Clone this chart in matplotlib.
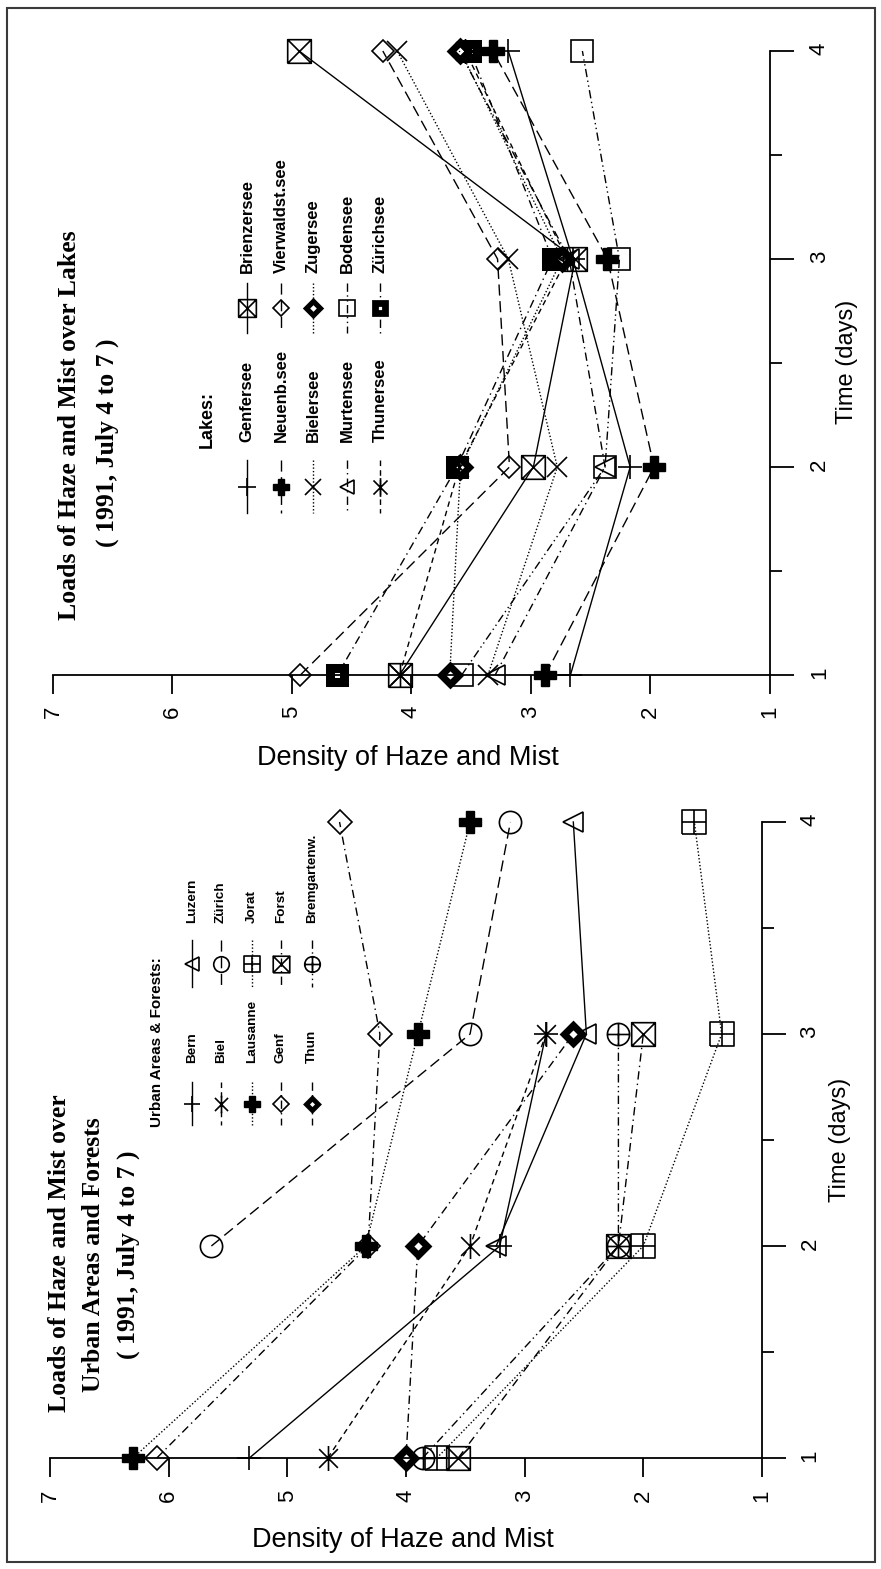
import numpy as np
import matplotlib.pyplot as plt
from matplotlib.path import Path
from matplotlib.patches import Rectangle

plt.rcParams['font.family'] = ['Liberation Sans', 'DejaVu Sans']

nan = np.nan
days = [1, 2, 3, 4]

# Seen: Dichte von Dunst und Nebel pro Tag
genfersee = [2.67, 2.17, 2.65, 3.19]
neuenburgersee = [2.88, 1.97, 2.36, 3.32]
bielersee = [3.36, 2.78, 3.19, 4.12]
murtensee = [3.30, 2.38, 2.68, 3.60]
thunersee = [4.10, 3.60, 2.70, 3.55]
brienzersee = [4.10, 2.98, 2.63, 4.94]
vierwaldstaettersee = [4.93, 3.18, 3.28, 4.24]
zugersee = [3.68, 3.59, 2.74, 3.59]
bodensee = [3.58, 2.38, 2.26, 2.57]
zuerichsee = [4.62, 3.62, 2.82, 3.51]

lake_names = ["Genfersee", "Neuenb.see", "Bielersee", "Murtensee", "Thunersee",
              "Brienzersee", "Vierwaldst.see", "Zugersee", "Bodensee", "Zürichsee"]
lake_values = [genfersee, neuenburgersee, bielersee, murtensee, thunersee,
               brienzersee, vierwaldstaettersee, zugersee, bodensee, zuerichsee]

# Städte und Wälder
bern = [5.32, 3.21, 2.82, nan]
biel = [4.66, 3.46, 2.82, nan]
lausanne = [6.30, 4.34, 3.90, 3.46]
genf = [6.10, 4.32, 4.22, 4.56]
thun = [4.00, 3.90, 2.59, nan]
luzern = [nan, 3.24, 2.48, 2.59]
zuerich = [nan, 5.64, 3.46, 3.12]
jorat = [3.74, 2.00, 1.34, 1.57]
forst = [3.56, 2.21, 2.00, nan]
bremgarten = [3.86, 2.21, 2.21, nan]

urban_names = ["Bern", "Biel", "Lausanne", "Genf", "Thun",
               "Luzern", "Zürich", "Jorat", "Forst", "Bremgartenw."]
urban_values = [bern, biel, lausanne, genf, thun,
                luzern, zuerich, jorat, forst, bremgarten]

# eigene Marker
M, L = Path.MOVETO, Path.LINETO
box_x = Path([(-1, -1), (1, -1), (1, 1), (-1, 1), (-1, -1), (-1, -1), (1, 1), (-1, 1), (1, -1)],
             [M, L, L, L, L, M, L, M, L])
box_plus = Path([(-1, -1), (1, -1), (1, 1), (-1, 1), (-1, -1), (0, -1), (0, 1), (-1, 0), (1, 0)],
                [M, L, L, L, L, M, L, M, L])
circle_plus = Path.make_compound_path(Path.unit_circle(),
                                      Path([(0, -1), (0, 1)], [M, L]),
                                      Path([(-1, 0), (1, 0)], [M, L]))
star6 = Path([(0, -1), (0, 1), (-0.75, -0.75), (0.75, 0.75), (-0.75, 0.75), (0.75, -0.75)],
             [M, L, M, L, M, L])

solid = '-'
longdash = (0, (8, 4))
shortdash = (0, (4, 3))
dotted = (0, (1, 1.5))
dashdot = (0, (6, 3, 1, 3))
dashdotdot = (0, (6, 2.5, 1, 2.5, 1, 2.5))

open_m = dict(mfc='none', mec='black', mew=1.2)
thick_m = dict(mfc='white', mec='black', mew=5)
fill_m = dict(mfc='black', mec='black', mew=1)

lake_styles = [
    dict(ls=solid, marker='+', ms=17, **open_m),
    dict(ls=longdash, marker='P', ms=16, **fill_m),
    dict(ls=dotted, marker='x', ms=15, **open_m),
    dict(ls=dashdot, marker='<', ms=14, **open_m),
    dict(ls=shortdash, marker=star6, ms=18, **open_m),
    dict(ls=solid, marker=box_x, ms=17, **open_m),
    dict(ls=longdash, marker='D', ms=11.5, **open_m),
    dict(ls=dotted, marker='D', ms=9, **thick_m),
    dict(ls=dashdotdot, marker='s', ms=16, **open_m),
    dict(ls=dashdot, marker='s', ms=10, mfc='white', mec='black', mew=6.5),
]
urban_styles = [
    dict(ls=solid, marker='+', ms=17, **open_m),
    dict(ls=shortdash, marker=star6, ms=18, **open_m),
    dict(ls=dotted, marker='P', ms=16, **fill_m),
    dict(ls=dashdot, marker='D', ms=12, **open_m),
    dict(ls=dashdot, marker='D', ms=9, **thick_m),
    dict(ls=solid, marker='<', ms=14, **open_m),
    dict(ls=longdash, marker='o', ms=16, **open_m),
    dict(ls=dotted, marker=box_plus, ms=17, **open_m),
    dict(ls=dashdot, marker=box_x, ms=17, **open_m),
    dict(ls=dashdotdot, marker=circle_plus, ms=16, **open_m),
]

W, H = 881, 1569
fig = plt.figure(figsize=(W / 100, H / 100), dpi=100)


def panel(x0, x1, y_top, y_bot, values, styles, pad_x, pad_y):
    ax = fig.add_axes([x0 / W, 1 - y_bot / H, (x1 - x0) / W, (y_bot - y_top) / H])
    ax.set_facecolor('none')
    # rückwärts zeichnen, damit die ersten Reihen oben liegen
    for vals, st in reversed(list(zip(values, styles))):
        ax.plot(vals, days, color='black', lw=1.0, clip_on=False, **st)
    ax.set_xlim(7, 1)
    ax.set_ylim(1, 4)
    ax.set_xticks(range(1, 8))
    ax.set_yticks(days)
    ax.set_yticks([1.5, 2.5, 3.5], minor=True)
    for s in ['top', 'left']:
        ax.spines[s].set_visible(False)
    for s in ['bottom', 'right']:
        ax.spines[s].set_linewidth(1.3)
    ax.yaxis.tick_right()
    ax.tick_params(axis='x', direction='out', length=14, width=1.3, pad=pad_x,
                   labelsize=16, labelrotation=90)
    ax.tick_params(axis='y', which='major', direction='out', length=17, width=1.3,
                   pad=pad_y, labelsize=16, labelrotation=90)
    ax.tick_params(axis='y', which='minor', direction='out', length=8.5, width=1.3)
    return ax


ax_lakes = panel(53, 770, 51, 675, lake_values, lake_styles, 8, 11)
ax_urban = panel(50, 762, 822, 1458, urban_values, urban_styles, 9, 10)

# Überlagerung in Pixelkoordinaten für Rahmen, Titel und Legenden
ov = fig.add_axes([0, 0, 1, 1])
ov.set_xlim(0, W)
ov.set_ylim(H, 0)
ov.axis('off')
ov.add_patch(Rectangle((7, 8), 868, 1554, fill=False, lw=1.5, ec='#3a3a3a'))

title_font = dict(family='Liberation Serif', weight='bold', size=18.5,
                  rotation=90, ha='center', va='center')
ov.text(70, 425, "Loads of Haze and Mist over Lakes", **title_font)
ov.text(107, 443, "( 1991, July 4 to 7 )", **title_font)
ov.text(60, 1253, "Loads of Haze and Mist over", **title_font)
ov.text(94, 1255, "Urban Areas and Forests", **title_font)
ov.text(128, 1255, "( 1991, July 4 to 7 )", **title_font)

ov.text(408, 758, "Density of Haze and Mist", fontsize=19.5, ha='center', va='center')
ov.text(403, 1540, "Density of Haze and Mist", fontsize=19.5, ha='center', va='center')
ov.text(847, 362, "Time (days)", fontsize=17, rotation=90, ha='center', va='center')
ov.text(840, 1140, "Time (days)", fontsize=17, rotation=90, ha='center', va='center')


def legend(title, title_x, title_y, title_size, names, styles, xs,
           seg, label_y, label_size, ms_scale):
    ov.text(title_x, title_y, title, fontsize=title_size, weight='bold',
            rotation=90, ha='center', va='bottom')
    for i, (name, st) in enumerate(zip(names, styles)):
        col = i // 5
        x = xs[i % 5]
        y0, y1 = seg[col]
        st = dict(st)
        st['ms'] = st['ms'] * ms_scale
        if st['mew'] > 2:
            st['mew'] = st['mew'] * ms_scale
        marker_st = {k: v for k, v in st.items() if k != 'ls'}
        ov.plot([x, x], [y0, y1], color='black', lw=1.0, ls=st['ls'])
        ov.plot([x], [(y0 + y1) / 2], color='black', ls='none', **marker_st)
        ov.text(x, label_y[col], name, fontsize=label_size, weight='bold',
                rotation=90, ha='center', va='bottom')


legend("Lakes:", 207, 448, 13, lake_names, lake_styles,
       [247, 281, 313, 347, 380], [(460, 513), (283, 333)], [442, 273], 12, 0.75)
legend("Urban Areas & Forests:", 157, 1127, 11, urban_names, urban_styles,
       [192, 221, 252, 281, 312], [(1082, 1125), (940, 987)], [1063, 923], 9.7, 0.7)

fig.savefig("out.png", dpi=100)
